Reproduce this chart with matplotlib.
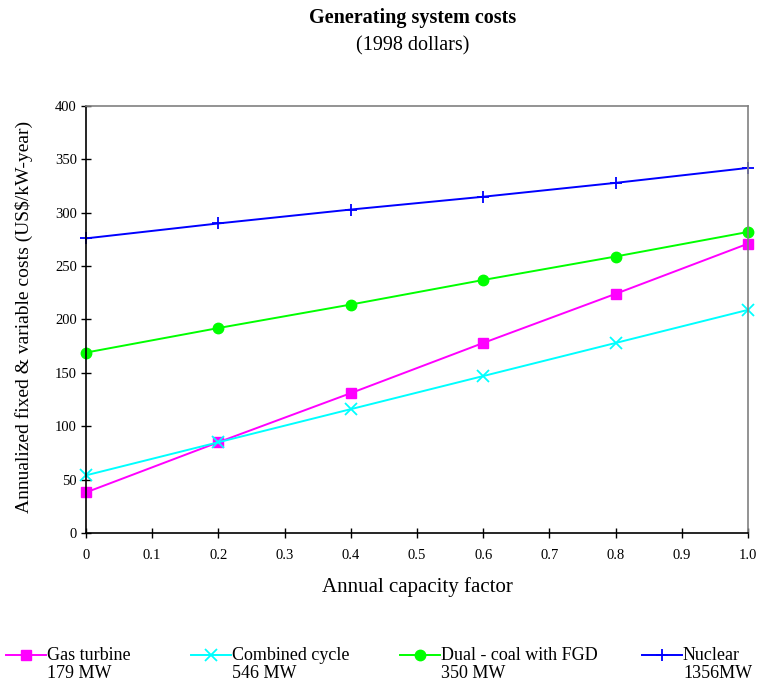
import numpy as np
import matplotlib
matplotlib.use('Agg')
import matplotlib.pyplot as plt
from matplotlib.lines import Line2D

plt.rcParams['font.family'] = ['Liberation Serif', 'DejaVu Serif']

# annualized fixed + variable cost, US$/kW-year, vs capacity factor
capacity_factor = [0.0, 0.2, 0.4, 0.6, 0.8, 1.0]
gas_turbine = [38, 85, 131, 178, 224, 271]
combined_cycle = [54, 85, 116, 147, 178, 209]
dual_coal = [169, 192, 214, 237, 259, 282]
nuclear = [276, 290, 303, 315, 328, 342]

series_names = ['Gas turbine', 'Combined cycle', 'Dual - coal with FGD', 'Nuclear']
series_sizes = ['179 MW', '546 MW', '350 MW', '1356MW']
x_ticks = [0, 0.1, 0.2, 0.3, 0.4, 0.5, 0.6, 0.7, 0.8, 0.9, 1.0]
x_tick_labels = ['0', '0.1', '0.2', '0.3', '0.4', '0.5', '0.6', '0.7', '0.8', '0.9', '1.0']
y_ticks = [0, 50, 100, 150, 200, 250, 300, 350, 400]

styles = [
    dict(color='#ff00ff', marker='s', ms=7),
    dict(color='#00ffff', marker='x', ms=8, mew=1.3),
    dict(color='#00ff00', marker='o', ms=7.5),
    dict(color='#0000ff', marker='+', ms=9, mew=1.3),
]

fig = plt.figure(figsize=(7.57, 6.84), dpi=100)
ax = fig.add_axes([0.1136, 0.2208, 0.8744, 0.6242])

for ys, st in zip([gas_turbine, combined_cycle, dual_coal, nuclear], styles):
    ax.plot(capacity_factor, ys, lw=1.4, clip_on=False, **st)

ax.set_xlim(0, 1.0)
ax.set_ylim(0, 400)
ax.set_xticks(x_ticks)
ax.set_xticklabels(x_tick_labels)
ax.set_yticks(y_ticks)
ax.tick_params(direction='inout', length=7, width=1, labelsize=10.5)
ax.tick_params(axis='x', pad=8)
ax.tick_params(axis='y', pad=3)
for side in ['left', 'bottom']:
    ax.spines[side].set_linewidth(1.2)
for side in ['top', 'right']:
    ax.spines[side].set_color('#808080')
    ax.spines[side].set_linewidth(1.2)

ax.set_xlabel('Annual capacity factor', fontsize=15, labelpad=11)
ax.set_ylabel('Annualized fixed & variable costs (US$/kW-year)', fontsize=14)
ax.yaxis.set_label_coords(-0.080, 0.506)

fig.text(0.545, 0.973, 'Generating system costs', ha='center', va='center',
         fontsize=14.5, fontweight='bold')
fig.text(0.545, 0.933, '(1998 dollars)', ha='center', va='center', fontsize=14.5)

# legend row along the bottom
key_x = [6, 191, 400, 642]
for kx, name, size, st in zip(key_x, series_names, series_sizes, styles):
    y0 = 1 - 655 / 684
    fig.add_artist(Line2D([kx / 757, (kx + 40) / 757], [y0, y0], lw=1.4,
                          transform=fig.transFigure, color=st['color']))
    fig.add_artist(Line2D([(kx + 20) / 757], [y0], transform=fig.transFigure,
                          ls='none', **st))
    fig.text((kx + 41) / 757, y0, name, ha='left', va='center', fontsize=13)
    fig.text((kx + 41) / 757, 1 - 674 / 684, size, ha='left', va='center', fontsize=13)

fig.savefig('out.png', dpi=100)
